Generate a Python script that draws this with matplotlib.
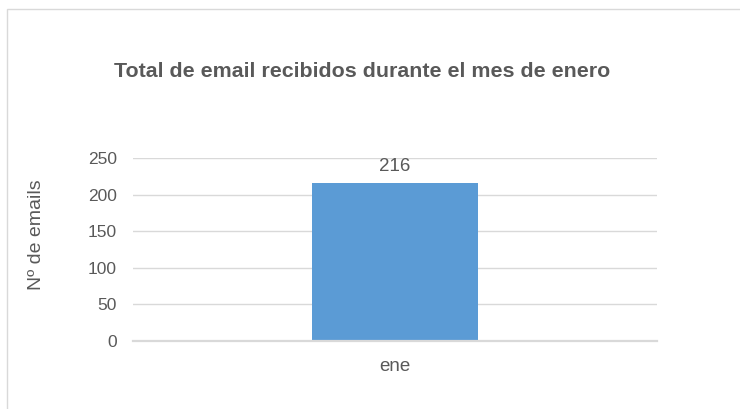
#!/usr/bin/env python3
"""
Bar chart: total emails received in January (out.png)
"""
import matplotlib
matplotlib.use("Agg")
import matplotlib.pyplot as plt
from matplotlib.patches import Rectangle

# data
months = ["ene"]
emails = [216]
y_ticks = [0, 50, 100, 150, 200, 250]

TEXT = "#595959"
GRID = "#D9D9D9"
BAR = "#5B9BD5"

plt.rcParams["font.family"] = ["Liberation Sans", "DejaVu Sans"]

W, H = 740, 409
fig = plt.figure(figsize=(W / 100, H / 100), dpi=100)

# chart border (runs off the right/bottom edge like the screenshot)
fig.patches.append(Rectangle((7 / W, -0.1), 1.2, (H - 9.3) / H + 0.1,
                             transform=fig.transFigure, fill=False,
                             edgecolor=GRID, linewidth=1.0))

ax = fig.add_axes([133 / W, (H - 341) / H, 524 / W, 183 / H])
ax.bar(range(len(months)), emails, width=0.315, color=BAR, zorder=2)
ax.set_xlim(-0.5, len(months) - 0.5)
ax.set_ylim(0, 250)
ax.set_yticks(y_ticks)
ax.set_xticks(range(len(months)))
ax.set_xticklabels(months)

ax.yaxis.grid(True, color=GRID, linewidth=1.0, zorder=0)
ax.set_axisbelow(True)
for side in ("top", "right", "left"):
    ax.spines[side].set_visible(False)
ax.spines["bottom"].set_color(GRID)
ax.spines["bottom"].set_linewidth(1.6)
ax.spines["bottom"].set_zorder(3)

ax.tick_params(axis="y", length=0, pad=11.5, labelsize=12.5, labelcolor=TEXT)
ax.tick_params(axis="x", length=0, pad=12, labelsize=13.5, labelcolor=TEXT)

for i, v in enumerate(emails):
    ax.annotate(str(v), (i, v), xytext=(0, 5.8), textcoords="offset points",
                ha="center", va="bottom", fontsize=13.5, color=TEXT)

fig.text(361.7 / W, (H - 77.3) / H, "Total de email recibidos durante el mes de enero",
         ha="center", va="baseline", fontsize=15.4, fontweight="bold", color=TEXT)
fig.text(36.5 / W, (H - 234.5) / H, "Nº de emails", rotation=90,
         ha="center", va="center", fontsize=14, color=TEXT)

fig.savefig("out.png", dpi=100)
print("Saved out.png")
